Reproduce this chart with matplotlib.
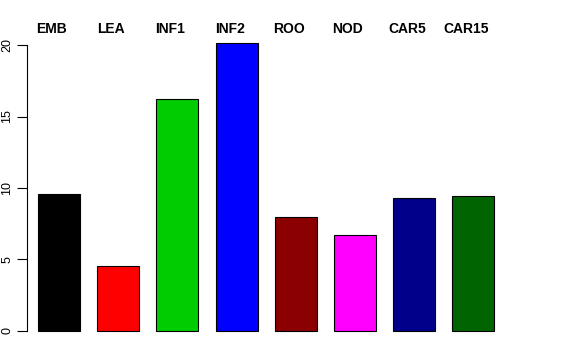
import matplotlib
matplotlib.use("Agg")
import matplotlib.pyplot as plt
import numpy as np

# tissue samples
labels = ["EMB", "LEA", "INF1", "INF2", "ROO", "NOD", "CAR5", "CAR15"]
values = [9.58, 4.55, 16.22, 20.14, 7.97, 6.71, 9.30, 9.44]
colors = ["black", "red", "#00CD00", "blue", "#8B0000", "magenta", "#00008B", "#006400"]
yticks = [0, 5, 10, 15, 20]

plt.rcParams['font.family'] = ['Liberation Sans', 'DejaVu Sans']

fig = plt.figure(figsize=(5.76, 3.6), dpi=100)
W, H = 576, 360
# axes box in pixels: x 20..512, y 30..345
ax = fig.add_axes([20 / W, (H - 345) / H, 492 / W, 315 / H])

x = np.arange(len(labels))
ax.bar(x, values, width=0.71, color=colors, edgecolor="black", linewidth=0.8)

ax.set_xlim(-0.659, 7.652)
ax.set_ylim(-0.98, 21.05)

for s in ["top", "right", "bottom"]:
    ax.spines[s].set_visible(False)
ax.spines["left"].set_position(("data", -0.54))
ax.spines["left"].set_bounds(0, 20)
ax.spines["left"].set_linewidth(0.8)

ax.set_xticks([])
ax.set_yticks(yticks)
ax.tick_params(axis="y", length=7, width=0.8, labelsize=9, pad=3)
for t in ax.get_yticklabels():
    t.set_rotation(90)
    t.set_va("center")

for xi, lab in zip(x, labels):
    ax.text(xi - 0.12, 20.84, lab, ha="center", va="baseline",
            fontsize=10, fontweight="bold", clip_on=False)

fig.savefig("out.png", dpi=100)
